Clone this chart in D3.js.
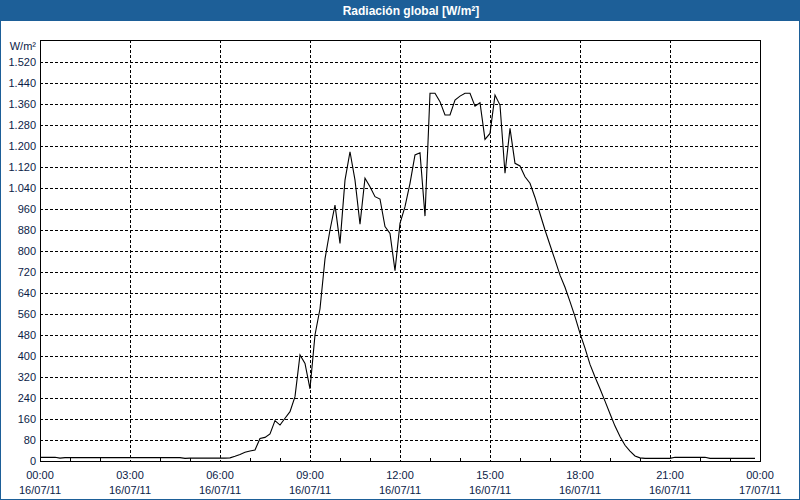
<!DOCTYPE html>
<html>
<head>
<meta charset="utf-8">
<script src="https://cdn.jsdelivr.net/npm/d3@7"></script>
<style>
  html, body { margin: 0; padding: 0; background: #ffffff; }
  svg { display: block; }
  text { font-family: "Liberation Sans", Arial, sans-serif; }
</style>
</head>
<body>
<svg id="chart" width="800" height="500"></svg>
<script>
// ---- data ----
const title = "Radiación global [W/m²]";
const unitLabel = "W/m²";
const startTime = "2011-07-16T00:00:00";
const endTime = "2011-07-17T00:00:00";
const sampleMinutes = 10;
// global radiation, W/m², every 10 minutes from 00:00 to 23:50
const radiation = [
  14, 14, 14, 14, 11, 13, 13, 13, 13, 13, 13, 13,
  13, 13, 13, 13, 13, 13, 13, 13, 13, 13, 13, 13,
  13, 13, 13, 13, 13, 10, 11, 11, 11, 11, 11, 11,
  11, 11, 12, 18, 25, 33, 38, 42, 86, 90, 103, 154,
  137, 163, 188, 245, 404, 372, 275, 480, 580, 770, 880, 975,
  829, 1070, 1178, 1070, 902, 1077, 1045, 1007, 998, 893, 867, 725,
  905, 969, 1058, 1166, 1174, 933, 1401, 1401, 1369, 1318, 1318, 1375,
  1390, 1401, 1401, 1352, 1365, 1225, 1248, 1394, 1356, 1096, 1267, 1134,
  1124, 1083, 1058, 1004, 942, 880, 823, 766, 708, 662, 607, 550,
  486, 430, 368, 320, 275, 228, 180, 133, 93, 60, 38, 19,
  12, 10, 10, 10, 10, 10, 10, 14, 14, 14, 14, 14,
  14, 14, 10, 10, 10, 10, 10, 10, 10, 10, 10, 10
];
const yTicks = [0, 80, 160, 240, 320, 400, 480, 560, 640, 720, 800, 880, 960,
  1040, 1120, 1200, 1280, 1360, 1440, 1520];
const yMax = 1600;
const xMajorHours = [0, 3, 6, 9, 12, 15, 18, 21, 24];
const xMinorHours = [1, 2, 4, 5, 7, 8, 10, 11, 13, 14, 16, 17, 19, 20, 22, 23];

// ---- layout ----
const W = 800, H = 500;
const mLeft = 40, mRight = 760, mTop = 40, mBottom = 461;
const barColor = "#1d5f98";
const labelColor = "#0c1c48";

const t0 = new Date(startTime), t1 = new Date(endTime);
const data = radiation.map((v, i) => ({ t: d3.timeMinute.offset(t0, i * sampleMinutes), v }));

const x = d3.scaleTime().domain([t0, t1]).range([mLeft, mRight]);
const y = d3.scaleLinear().domain([0, yMax]).range([mBottom, mTop + 1]);

const es = d3.formatLocale({ decimal: ",", thousands: ".", grouping: [3], currency: ["", "€"] });
const fmtY = es.format(",d");
const fmtTime = d3.timeFormat("%H:%M");
const fmtDate = d3.timeFormat("%d/%m/%y");
const hourDate = h => d3.timeHour.offset(t0, h);
const px = v => Math.round(v) + 0.5;

const svg = d3.select("#chart");

svg.append("rect").attr("x", 0).attr("y", 0).attr("width", W).attr("height", H).attr("fill", "#ffffff");

// title bar
svg.append("rect").attr("x", 0).attr("y", 0).attr("width", W).attr("height", 21).attr("fill", barColor);
svg.append("text").attr("x", 411).attr("y", 15)
  .attr("text-anchor", "middle").attr("fill", "#ffffff")
  .attr("font-size", 12).attr("font-weight", "bold").text(title);

// outer border
svg.append("rect").attr("x", 0.5).attr("y", 0.5).attr("width", W - 1).attr("height", H - 1)
  .attr("fill", "none").attr("stroke", barColor).attr("stroke-width", 1);

const g = svg.append("g");

// horizontal dashed grid
g.selectAll("line.hg").data(yTicks.filter(d => d > 0)).join("line")
  .attr("x1", mLeft).attr("x2", mRight)
  .attr("y1", d => px(y(d))).attr("y2", d => px(y(d)))
  .attr("stroke", "#000").attr("stroke-width", 1)
  .attr("stroke-dasharray", "3,2").attr("shape-rendering", "crispEdges");

// vertical dashed grid
g.selectAll("line.vg").data(xMajorHours.filter(h => h > 0 && h < 24)).join("line")
  .attr("x1", h => px(x(hourDate(h)))).attr("x2", h => px(x(hourDate(h))))
  .attr("y1", mTop).attr("y2", mBottom)
  .attr("stroke", "#000").attr("stroke-width", 1)
  .attr("stroke-dasharray", "3,2").attr("shape-rendering", "crispEdges");

// minor ticks on bottom axis
g.selectAll("line.mt").data(xMinorHours).join("line")
  .attr("x1", h => px(x(hourDate(h)))).attr("x2", h => px(x(hourDate(h))))
  .attr("y1", px(y(0)) - 4).attr("y2", px(y(0)))
  .attr("stroke", "#000").attr("stroke-width", 1).attr("shape-rendering", "crispEdges");

// frame
g.append("rect").attr("x", mLeft + 0.5).attr("y", mTop + 0.5)
  .attr("width", mRight - mLeft).attr("height", px(y(0)) - mTop - 0.5)
  .attr("fill", "none").attr("stroke", "#000").attr("stroke-width", 1)
  .attr("shape-rendering", "crispEdges");

// y labels
g.selectAll("text.yl").data(yTicks).join("text")
  .attr("x", 36).attr("y", d => y(d) + 4)
  .attr("text-anchor", "end").attr("font-size", 11).attr("fill", labelColor)
  .text(d => fmtY(d));
g.append("text").attr("x", 36).attr("y", 50).attr("text-anchor", "end")
  .attr("font-size", 11).attr("fill", labelColor).text(unitLabel);

// x labels
const xl = g.selectAll("g.xl").data(xMajorHours).join("g")
  .attr("transform", h => `translate(${x(hourDate(h))},0)`);
xl.append("text").attr("y", 479).attr("text-anchor", "middle")
  .attr("font-size", 11).attr("fill", labelColor).text(h => fmtTime(hourDate(h)));
xl.append("text").attr("y", 494).attr("text-anchor", "middle")
  .attr("font-size", 11).attr("fill", labelColor).text(h => fmtDate(hourDate(h)));

// data line
const line = d3.line().x(d => x(d.t)).y(d => y(d.v));
g.append("path").datum(data).attr("d", line)
  .attr("fill", "none").attr("stroke", "#000").attr("stroke-width", 1.1)
  .attr("stroke-linejoin", "miter");
</script>
</body>
</html>
